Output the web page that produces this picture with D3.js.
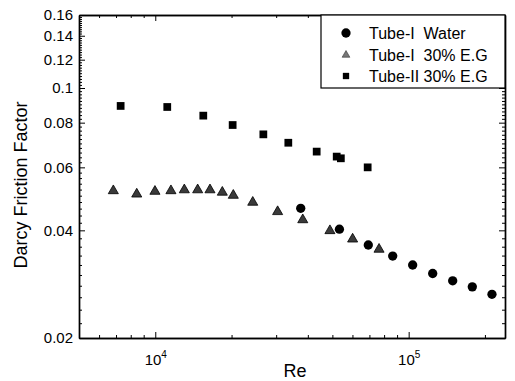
<!DOCTYPE html>
<html><head><meta charset="utf-8">
<script src="https://cdn.jsdelivr.net/npm/d3@7"></script>
<style>body{margin:0;background:#fff} text{font-family:"Liberation Sans",Arial,sans-serif;fill:#000}</style>
</head><body><svg id="c" width="515" height="381"></svg>
<script>
// ---- data ----
const waterRe = [37500, 53300, 69300, 86500, 103700, 124400, 149200, 178300, 213200];
const waterF  = [0.0461, 0.0403, 0.0364, 0.0339, 0.0320, 0.0303, 0.0289, 0.0278, 0.0265];
const eg1Re = [6830, 8450, 9970, 11530, 13020, 14700, 16440, 18390, 20320, 24250, 30400, 38200, 48900, 60100, 76400];
const eg1F  = [0.0516, 0.0505, 0.0514, 0.0516, 0.0519, 0.0519, 0.0519, 0.0511, 0.0501, 0.0479, 0.0451, 0.0428, 0.0399, 0.0378, 0.0354];
const eg2Re = [7300, 11150, 15470, 20200, 26700, 33500, 43350, 52000, 54000, 68900];
const eg2F  = [0.0891, 0.0885, 0.0837, 0.0788, 0.0742, 0.0703, 0.0664, 0.0643, 0.0636, 0.0600];
const seriesNames = ["Tube-I  Water", "Tube-I  30% E.G", "Tube-II 30% E.G"];
const yTickValues = [0.02, 0.04, 0.06, 0.08, 0.1, 0.12, 0.14, 0.16];
const yTickLabels = ["0.02", "0.04", "0.06", "0.08", "0.1", "0.12", "0.14", "0.16"];
const xMajorTicks = [1e4, 1e5];
const xMajorExp = ["4", "5"];
const xMinorTicks = [6000, 7000, 8000, 9000, 20000, 30000, 40000, 50000, 60000, 70000, 80000, 90000, 200000];
const xTitle = "Re";
const yTitle = "Darcy Friction Factor";

// ---- layout ----
const L = 79, R = 505, T = 15, B = 338;
const svg = d3.select("#c");
const x = d3.scaleLog().domain([5000, 240000]).range([L, R]);
const y = d3.scaleLog().domain([0.02, 0.16]).range([B, T]);
const yMinor = d3.range(0.022, 0.1595, 0.002).map(v => +v.toFixed(3)).filter(v => !yTickValues.some(t => Math.abs(t - v) < 1e-6));

function styleAxis(g) {
  g.select(".domain").attr("stroke", "#000").attr("stroke-width", 1.4);
  g.selectAll(".tick line").attr("stroke", "#000").attr("stroke-width", 1);
}
// bottom
svg.append("g").attr("transform", `translate(0,${B})`)
  .call(d3.axisBottom(x).tickValues(xMinorTicks).tickSizeInner(-3).tickSizeOuter(0).tickFormat(""))
  .call(styleAxis);
const bMaj = svg.append("g").attr("transform", `translate(0,${B})`)
  .call(d3.axisBottom(x).tickValues(xMajorTicks).tickSizeInner(-6).tickSizeOuter(0).tickPadding(14).tickFormat(""))
  .call(styleAxis);
bMaj.selectAll(".tick").each(function(d, i) {
  const t = d3.select(this).append("text").attr("y", 27).attr("text-anchor", "middle")
    .style("font-size", "15px");
  t.append("tspan").text("10");
  t.append("tspan").attr("dy", -7).style("font-size", "10px").text(xMajorExp[i]);
});
// top
svg.append("g").attr("transform", `translate(0,${T})`)
  .call(d3.axisTop(x).tickValues(xMinorTicks).tickSizeInner(-3).tickSizeOuter(0).tickFormat(""))
  .call(styleAxis);
svg.append("g").attr("transform", `translate(0,${T})`)
  .call(d3.axisTop(x).tickValues(xMajorTicks).tickSizeInner(-6).tickSizeOuter(0).tickFormat(""))
  .call(styleAxis);
// left
svg.append("g").attr("transform", `translate(${L},0)`)
  .call(d3.axisLeft(y).tickValues(yMinor).tickSizeInner(-3).tickSizeOuter(0).tickFormat(""))
  .call(styleAxis);
svg.append("g").attr("transform", `translate(${L},0)`)
  .call(d3.axisLeft(y).tickValues(yTickValues).tickSizeInner(-6).tickSizeOuter(0).tickPadding(6)
    .tickFormat((d, i) => yTickLabels[i]))
  .call(styleAxis)
  .call(g => g.selectAll("text").style("font-size", "15px").attr("x", -6));
// right
svg.append("g").attr("transform", `translate(${R},0)`)
  .call(d3.axisRight(y).tickValues(yMinor).tickSizeInner(-3).tickSizeOuter(0).tickFormat(""))
  .call(styleAxis);
svg.append("g").attr("transform", `translate(${R},0)`)
  .call(d3.axisRight(y).tickValues(yTickValues).tickSizeInner(-6).tickSizeOuter(0).tickFormat(""))
  .call(styleAxis);

// titles
svg.append("text").attr("x", (L + R) / 2 + 3).attr("y", 377).attr("text-anchor", "middle")
  .style("font-size", "18px").text(xTitle);
svg.append("text").attr("transform", `translate(27,${185}) rotate(-90)`).attr("text-anchor", "middle")
  .style("font-size", "18px").text(yTitle);

// markers
const circ = d3.symbol().type(d3.symbolCircle).size(68);
const tri = d3.symbol().type(d3.symbolTriangle).size(44);
const sq = d3.symbol().type(d3.symbolSquare).size(60);
const plot = svg.append("g");
plot.selectAll(".sq").data(eg2Re.map((r, i) => [r, eg2F[i]])).join("path")
  .attr("d", sq).attr("transform", d => `translate(${x(d[0])},${y(d[1])})`).attr("fill", "#000");
plot.selectAll(".tr").data(eg1Re.map((r, i) => [r, eg1F[i]])).join("path")
  .attr("d", tri).attr("transform", d => `translate(${x(d[0])},${y(d[1])})`)
  .attr("fill", "#3a3a3a").attr("stroke", "#000").attr("stroke-width", 0.8);
plot.selectAll(".ci").data(waterRe.map((r, i) => [r, waterF[i]])).join("path")
  .attr("d", circ).attr("transform", d => `translate(${x(d[0])},${y(d[1])})`).attr("fill", "#000");

// legend
const lg = svg.append("g");
lg.append("rect").attr("x", 321).attr("y", T).attr("width", R - 321).attr("height", 73)
  .attr("fill", "#fff").attr("stroke", "#000").attr("stroke-width", 1.2);
const rowsY = [33, 55, 76];
const syms = [circ, d3.symbol().type(d3.symbolTriangle).size(26), d3.symbol().type(d3.symbolSquare).size(40)];
const fills = ["#000", "#777", "#000"];
seriesNames.forEach((n, i) => {
  lg.append("path").attr("d", syms[i]).attr("transform", `translate(346,${rowsY[i]})`)
    .attr("fill", fills[i]).attr("stroke", i === 1 ? "#333" : "none").attr("stroke-width", 0.6);
  lg.append("text").attr("x", 369).attr("y", rowsY[i] + 5.5).style("font-size", "16px")
    .style("white-space", "pre").text(n);
});
</script></body></html>
